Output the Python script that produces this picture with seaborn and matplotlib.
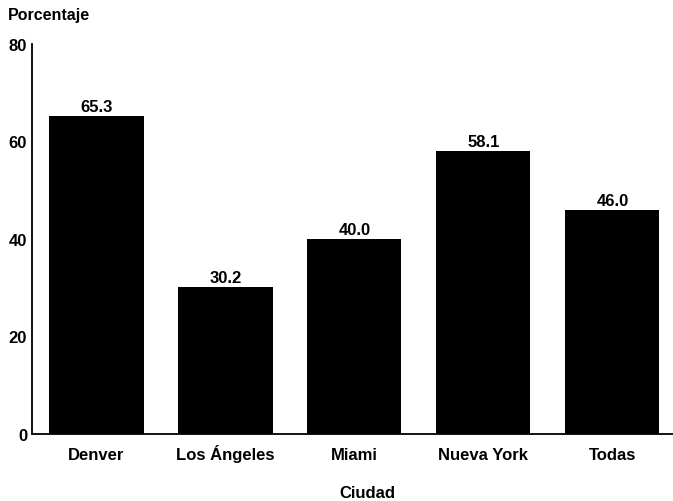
"""Porcentaje por ciudad: bar chart."""

import matplotlib

matplotlib.use("Agg")
import matplotlib.pyplot as plt
import pandas as pd
import seaborn as sns

cities = ["Denver", "Los Ángeles", "Miami", "Nueva York", "Todas"]
percentages = [65.3, 30.2, 40.0, 58.1, 46.0]
y_ticks = [0, 20, 40, 60, 80]

sns.set_theme(style="white")
plt.rcParams["font.family"] = ["Liberation Sans", "DejaVu Sans"]
plt.rcParams["font.weight"] = "bold"
plt.rcParams["text.color"] = "black"
plt.rcParams["axes.labelcolor"] = "black"

frame = pd.DataFrame({"Ciudad": cities, "Porcentaje": percentages})

fig = plt.figure(figsize=(6.73, 5.02), dpi=100)
ax = fig.add_axes([0.0475, 0.1335, 0.9525, 0.777])
sns.barplot(data=frame, x="Ciudad", y="Porcentaje", color="black", width=0.73,
            saturation=1, linewidth=0, ax=ax)

for idx, val in enumerate(percentages):
    ax.text(idx, val + 1.0, f"{val:.1f}", ha="center", va="baseline",
            fontsize=12, fontweight="bold", color="black")

ax.set_ylim(0, 80)
ax.set_xlim(-0.5, 4.47)
ax.set_yticks(y_ticks)
ax.tick_params(axis="both", length=0, labelsize=12, colors="black")
ax.tick_params(axis="y", pad=3.5)
ax.tick_params(axis="x", pad=18)
for lbl in ax.get_yticklabels():
    lbl.set_fontweight("bold")
for lbl in ax.get_xticklabels():
    lbl.set_fontweight("bold")
    lbl.set_verticalalignment("baseline")

sns.despine(ax=ax, top=True, right=True)
for side in ("left", "bottom"):
    ax.spines[side].set_color("black")
    ax.spines[side].set_linewidth(1.3)

ax.set_ylabel("")
ax.set_xlabel("")
fig.text(367 / 673, 0.008, "Ciudad", fontsize=12, fontweight="bold",
         ha="center", va="baseline")
fig.text(0.012, 0.960, "Porcentaje", fontsize=11.5, fontweight="bold",
         ha="left", va="baseline")

fig.savefig("out.png", dpi=100)
plt.close(fig)
